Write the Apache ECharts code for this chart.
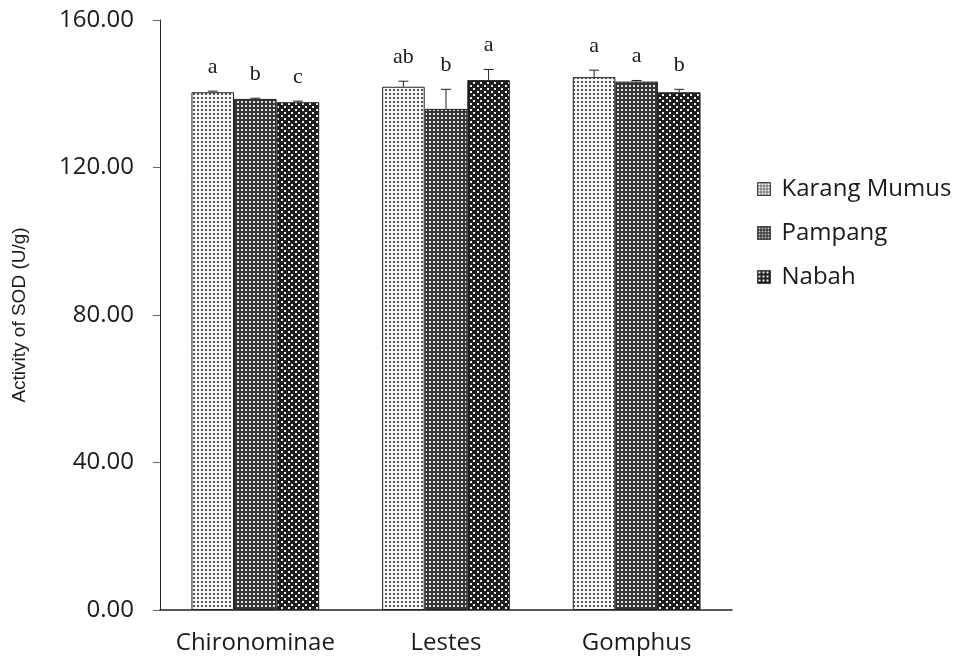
<!DOCTYPE html>
<html>
<head>
<meta charset="utf-8">
<script src="https://cdn.jsdelivr.net/npm/echarts@6/dist/echarts.min.js"></script>
<style>
  html, body { margin: 0; padding: 0; background: #fff; }
  #chart { width: 958px; height: 663px; }
</style>
</head>
<body>
<div id="chart"></div>
<script>
// Taxa on the category axis
const categories = ['Chironominae', 'Lestes', 'Gomphus'];
// Sampling sites
const sites = ['Karang Mumus', 'Pampang', 'Nabah'];
// Mean SOD activity (U/g) per site, one entry per taxon
const karangMumus = [140.4, 141.9, 144.5];
const pampang = [138.6, 135.9, 143.3];
const nabah = [137.7, 143.7, 140.4];
// Standard deviation (upper error bar)
const karangMumusErr = [0.3, 1.5, 1.9];
const pampangErr = [0.2, 5.3, 0.3];
const nabahErr = [0.3, 2.9, 0.8];
// Significance letters
const karangMumusSig = ['a', 'ab', 'a'];
const pampangSig = ['b', 'b', 'a'];
const nabahSig = ['c', 'a', 'b'];
// Y-axis ticks
const yMin = 0, yMax = 160, yStep = 40;

function makePattern(w, h, bg, fg, dots, size) {
  const c = document.createElement('canvas');
  c.width = w; c.height = h;
  const ctx = c.getContext('2d');
  ctx.fillStyle = bg;
  ctx.fillRect(0, 0, w, h);
  ctx.fillStyle = fg;
  dots.forEach(d => ctx.fillRect(d[0], d[1], size, size));
  return { image: c, repeat: 'repeat' };
}

// Small lattice swatches for the legend keys
function makeLattice(w, bg, line) {
  const c = document.createElement('canvas');
  c.width = w; c.height = w;
  const ctx = c.getContext('2d');
  ctx.fillStyle = bg;
  ctx.fillRect(0, 0, w, w);
  ctx.fillStyle = line;
  ctx.fillRect(0, 0, w, 1);
  ctx.fillRect(0, 0, 1, w);
  return { image: c, repeat: 'repeat' };
}

const patterns = [
  makePattern(4, 4, '#f6f6f6', '#555555', [[1, 1]], 2),
  makePattern(4, 4, '#363636', '#e0e0e0', [[1, 1]], 2),
  makePattern(7, 6, '#1e1e1e', '#f0f0f0', [[1, 1], [4, 4]], 2)
];
const legendPatterns = [
  makeLattice(3, '#ffffff', '#666666'),
  makeLattice(3, '#bbbbbb', '#222222'),
  makePattern(4, 4, '#1e1e1e', '#f0f0f0', [[1, 1]], 2)
];

const values = [karangMumus, pampang, nabah];
const errs = [karangMumusErr, pampangErr, nabahErr];
const sigs = [karangMumusSig, pampangSig, nabahSig];

const series = [];
sites.forEach((name, s) => {
  series.push({
    name: name,
    type: 'bar',
    data: values[s],
    barGap: '0%',
    barCategoryGap: '33%',
    itemStyle: { color: patterns[s], borderColor: '#222', borderWidth: 1 },
    emphasis: { disabled: true }
  });
});

// Error bars with significance letters on top
sites.forEach((name, s) => {
  series.push({
    type: 'custom',
    name: name + ' error',
    z: 5,
    data: categories.map((c, i) => [i, values[s][i], values[s][i] + errs[s][i], sigs[s][i]]),
    encode: { x: 0, y: [1, 2] },
    renderItem: function (params, api) {
      const idx = api.value(0);
      const base = api.coord([idx, api.value(1)]);
      const top = api.coord([idx, api.value(2)]);
      const bandW = api.size([1, 0])[0];
      const barW = bandW * (1 - 0.33) / 3;
      const x = base[0] + (s - 1) * barW;
      const cap = 5;
      return {
        type: 'group',
        children: [
          { type: 'line', shape: { x1: x, y1: base[1], x2: x, y2: top[1] }, style: { stroke: '#222', lineWidth: 1 } },
          { type: 'line', shape: { x1: x - cap, y1: top[1], x2: x + cap, y2: top[1] }, style: { stroke: '#222', lineWidth: 1 } },
          { type: 'text', x: x, y: top[1] - 24, style: { text: sigs[s][idx], font: '22px "Liberation Serif"', fill: '#1a1a1a', align: 'center', verticalAlign: 'middle' } }
        ]
      };
    },
    silent: true
  });
});

const chart = echarts.init(document.getElementById('chart'), null, { renderer: 'canvas' });
chart.setOption({
  animation: false,
  backgroundColor: '#fff',
  grid: { left: 160, right: 226, top: 20, bottom: 53, containLabel: false, outerBoundsMode: 'none' },
  legend: {
    orient: 'vertical',
    left: 752,
    top: 172,
    itemWidth: 13,
    itemHeight: 13,
    itemGap: 20,
    textStyle: { fontFamily: 'Open Sans', fontSize: 24, lineHeight: 24, color: '#1a1a1a', padding: [0, 0, 0, 6] },
    data: sites.map((n, i) => ({ name: n, icon: 'rect', itemStyle: { color: legendPatterns[i], borderColor: '#444', borderWidth: 1 } }))
  },
  xAxis: {
    type: 'category',
    data: categories,
    axisLine: { lineStyle: { color: '#222', width: 1.5 } },
    axisTick: { show: false },
    axisLabel: { fontFamily: 'Open Sans', fontSize: 24, color: '#1a1a1a', margin: 21, interval: 0 }
  },
  yAxis: {
    type: 'value',
    min: yMin,
    max: yMax,
    interval: yStep,
    name: 'Activity of SOD (U/g)',
    nameLocation: 'middle',
    nameGap: 131,
    nameRotate: 90,
    nameTextStyle: { fontFamily: 'Liberation Sans', fontSize: 19, color: '#1a1a1a' },
    axisLine: { show: true, lineStyle: { color: '#222', width: 1 } },
    axisTick: { show: true, length: 7, lineStyle: { color: '#666' } },
    splitLine: { show: false },
    axisLabel: {
      fontFamily: 'Open Sans', fontSize: 24, color: '#1a1a1a', margin: 26,
      formatter: v => v.toFixed(2)
    }
  },
  series: series
});
</script>
</body>
</html>
